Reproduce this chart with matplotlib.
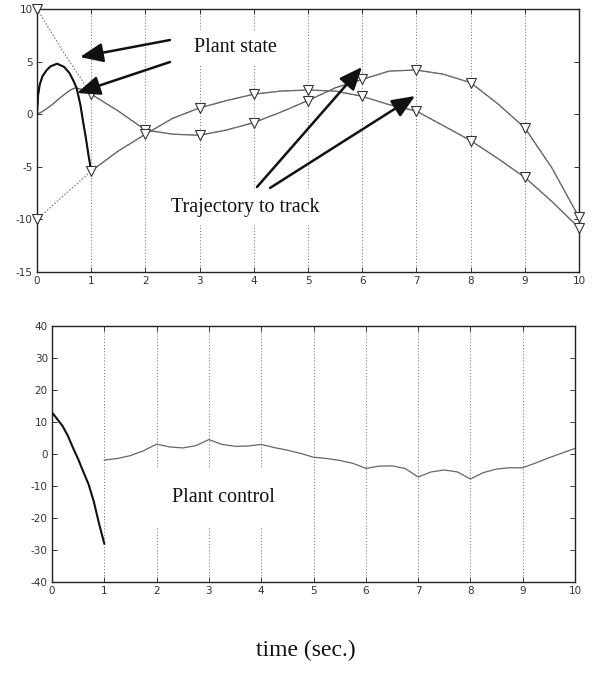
import matplotlib
matplotlib.use("Agg")
import matplotlib.pyplot as plt
import numpy as np

# ---------------- data ----------------
# trajectories to track (top panel), sampled every 0.5 s
t_traj = [0, 0.5, 1, 1.5, 2, 2.5, 3, 3.5, 4, 4.5, 5, 5.5, 6, 6.5, 7, 7.5, 8, 8.5, 9, 9.5, 10]
traj1 = [10, 5.8, 1.9, 0.3, -1.5, -1.9, -2.0, -1.5, -0.8, 0.2, 1.3, 2.5, 3.3, 4.1, 4.2, 3.8, 3.0, 1.0, -1.3, -5.1, -9.8]
traj2 = [-10, -7.7, -5.4, -3.5, -1.9, -0.4, 0.6, 1.3, 1.9, 2.2, 2.3, 2.2, 1.7, 0.9, 0.3, -1.1, -2.5, -4.2, -6.0, -8.3, -10.8]

# plant states during the first second (afterwards they follow the trajectories)
t_state1 = [0, 0.02, 0.05, 0.1, 0.18, 0.25, 0.37, 0.5, 0.6, 0.68, 0.73, 0.8, 0.85, 0.9, 0.95, 1.0]
state1 = [0, 1.8, 2.8, 3.6, 4.2, 4.55, 4.8, 4.5, 3.9, 3.1, 2.5, 0.9, -0.7, -2.2, -3.9, -5.4]
t_state2 = [0, 0.1, 0.2, 0.3, 0.4, 0.5, 0.6, 0.7, 0.8, 0.9, 1.0]
state2 = [0, 0.25, 0.6, 1.0, 1.45, 1.85, 2.25, 2.5, 2.4, 2.2, 1.9]

# plant control (bottom panel)
t_ctrl1 = [0, 0.1, 0.2, 0.3, 0.4, 0.5, 0.6, 0.7, 0.8, 0.9, 1.0]
ctrl1 = [13, 10.9, 8.8, 5.8, 2.0, -1.6, -5.6, -9.5, -14.9, -21.8, -28]
t_ctrl2 = [1, 1.25, 1.5, 1.75, 2, 2.25, 2.5, 2.75, 3, 3.25, 3.5, 3.75, 4, 4.25, 4.5, 4.75,
           5, 5.25, 5.5, 5.75, 6, 6.25, 6.5, 6.75, 7, 7.25, 7.5, 7.75, 8, 8.25, 8.5, 8.75,
           9, 9.25, 9.5, 9.75, 10]
ctrl2 = [-1.9, -1.4, -0.5, 1.0, 3.1, 2.2, 1.9, 2.6, 4.5, 3.0, 2.4, 2.5, 3.0, 2.0, 1.2, 0.2,
         -1.0, -1.4, -2.0, -2.9, -4.5, -3.8, -3.7, -4.5, -7.2, -5.6, -5.0, -5.6, -7.8, -5.8, -4.7, -4.3,
         -4.3, -2.8, -1.2, 0.3, 1.75]

x_ticks = [0, 1, 2, 3, 4, 5, 6, 7, 8, 9, 10]
top_yticks = [-15, -10, -5, 0, 5, 10]
bot_yticks = [-40, -30, -20, -10, 0, 10, 20, 30, 40]

# ---------------- figure ----------------
W, H = 592, 677
fig = plt.figure(figsize=(W / 100, H / 100), dpi=100)
fig.patch.set_facecolor("white")

def px_axes(l, t, r, b):
    return [l / W, 1 - b / H, (r - l) / W, (b - t) / H]

ax1 = fig.add_axes(px_axes(37, 9, 579, 272))
ax2 = fig.add_axes(px_axes(52, 326, 575, 582))

tick_font = dict(family="DejaVu Sans", size=7.5)

def style(ax, yticks, ylim):
    ax.set_xlim(0, 10)
    ax.set_ylim(*ylim)
    ax.set_xticks(x_ticks)
    ax.set_yticks(yticks)
    ax.set_xticklabels([str(v) for v in x_ticks], **tick_font, color="#333")
    ax.set_yticklabels([str(v) for v in yticks], **tick_font, color="#333")
    ax.tick_params(direction="in", length=3.5, width=0.7, top=True, right=True,
                   pad=3, colors="#333")
    for s in ax.spines.values():
        s.set_linewidth(1.0)
        s.set_color("#222")
    for xv in x_ticks[1:-1]:
        ax.axvline(xv, color="#7f7f7f", lw=0.7, ls=(0, (1.2, 2)), zorder=1)

style(ax1, top_yticks, (-15, 10))
style(ax2, bot_yticks, (-40, 40))

# ---- top panel ----
tr_kw = dict(color="#7a7a7a", lw=0.8, ls=(0, (1.5, 1.5)), zorder=3)
mk_kw = dict(marker="v", markersize=6.5, markerfacecolor="white",
             markeredgecolor="#333", markeredgewidth=0.8)

# plant states (solid): first second, then following the trajectories
ax1.plot(t_state2 + t_traj[3:], state2 + traj1[3:], color="#555", lw=0.9, zorder=2)
ax1.plot(t_state1 + t_traj[3:], state1 + traj2[3:], color="#555", lw=0.9, zorder=2)
ax1.plot(t_state1, state1, color="#111", lw=1.5, zorder=4)

# trajectories (dotted with triangles)
ax1.plot(t_traj, traj1, **tr_kw)
ax1.plot(t_traj, traj2, **tr_kw)
ax1.plot(t_traj[::2], traj1[::2], ls="none", zorder=5, clip_on=False, **mk_kw)
ax1.plot(t_traj[::2], traj2[::2], ls="none", zorder=5, clip_on=False, **mk_kw)

# ---- bottom panel ----
ax2.plot(t_ctrl1, ctrl1, color="#111", lw=1.5, zorder=3)
ax2.plot(t_ctrl2, ctrl2, color="#666", lw=0.9, zorder=3)

# ---------------- annotations ----------------
serif = "Liberation Serif"
box = dict(facecolor="white", edgecolor="none", pad=6)

def ftext(x, y, s, size, bbox=None):
    fig.text(x / W, 1 - y / H, s, ha="center", va="center", family=serif,
             fontsize=size, color="#111", bbox=bbox, zorder=5)

ftext(235, 48, "Plant state", 14.5, box)
ftext(245, 207, "Trajectory to track", 14.5, box)
ftext(223, 498, "Plant control", 14.5, dict(facecolor="white", edgecolor="none", pad=14))
ftext(306, 650, "time (sec.)", 17)

arrows = [((170, 40), (80, 57)),
          ((170, 62), (77, 93)),
          ((257, 187), (362, 67)),
          ((270, 188), (415, 96)),
          ((252, 480), (305, 418))]
for (tx, ty), (hx, hy) in arrows:
    ax1.annotate("", xy=(hx, H - hy), xytext=(tx, H - ty),
                 xycoords="figure pixels", textcoords="figure pixels",
                 arrowprops=dict(arrowstyle="-|>,head_length=1.0,head_width=0.42",
                                 lw=1.8, color="#111", mutation_scale=14,
                                 shrinkA=0, shrinkB=0),
                 annotation_clip=False, zorder=10)

fig.savefig("out.png", dpi=100, facecolor="white")
